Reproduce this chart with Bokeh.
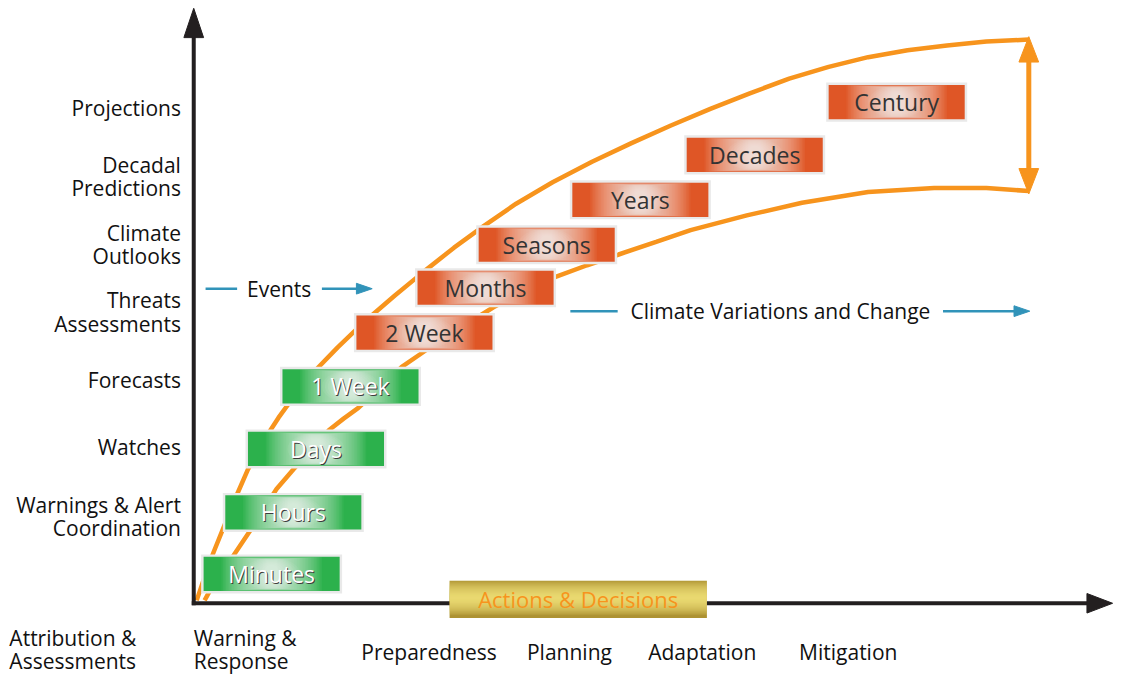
from bokeh.plotting import figure
from bokeh.models import Range1d
from bokeh.embed import file_html
from bokeh.resources import INLINE
from bokeh.core.properties import value

FONT = "Open Sans"

# ---- data -------------------------------------------------------------
box_labels = ["Minutes", "Hours", "Days", "1 Week", "2 Week", "Months",
              "Seasons", "Years", "Decades", "Century"]
box_x = [275, 297, 320, 355, 430, 492, 554, 649, 765, 909]
box_y = [587, 524, 459, 395, 340, 294, 250, 204, 158, 104]
box_kind = ["short", "short", "short", "short", "long", "long", "long",
            "long", "long", "long"]

ylab_text = ["Projections", "Decadal", "Predictions", "Climate", "Outlooks",
             "Threats", "Assessments", "Forecasts", "Watches",
             "Warnings & Alert", "Coordination"]
ylab_y = [110, 168, 192, 238, 262, 307, 331, 388, 457, 516, 540]

xlab_text = ["Attribution &", "Assessments", "Warning &", "Response",
             "Preparedness", "Planning", "Adaptation", "Mitigation"]
xlab_x = [9, 9, 196, 196, 366, 534, 657, 810]
xlab_y = [653, 676, 653, 676, 667, 667, 667, 667]

upper_x = [199, 207, 216, 226, 238, 251, 266, 282, 300, 320, 342, 370, 400,
           430, 460, 490, 523, 560, 600, 640, 680, 720, 760, 800, 840, 880,
           920, 960, 1000, 1043]
upper_y = [614, 590, 565, 540, 510, 480, 452, 427, 402, 378, 355, 328, 302,
           277, 253, 231, 208, 186, 165, 146, 128, 111, 95, 80, 68, 58, 51,
           46, 42, 40]
lower_x = [207, 213, 225, 237, 253, 266, 280, 297, 315, 333, 348, 363, 385,
           407, 433, 465, 500, 530, 563, 595, 627, 665, 700, 757, 813, 880,
           947, 1000, 1043]
lower_y = [614, 603, 585, 567, 543, 522, 500, 480, 460, 440, 428, 417, 396,
           375, 357, 336, 314, 298, 283, 271, 260, 247, 235, 220, 207, 196,
           192, 192, 195]

action_label = "Actions & Decisions"
action_x, action_y = 586, 613

# ---- styles -----------------------------------------------------------
AXIS_C = "#231f20"
ORANGE = "#f7941d"
BLUE = "#3193b9"
GREEN = "#2cb14c"
RED = "#df5626"
BOX_W, BOX_H = 138, 35

p = figure(width=1119, height=678, x_range=Range1d(0, 1135),
           y_range=Range1d(694, 0), x_axis_type=None, y_axis_type=None,
           toolbar_location=None, output_backend="svg", min_border=0)
p.outline_line_color = None
p.background_fill_color = "white"
p.border_fill_color = "white"


def head(tx, ty, dx, dy, length, width):
    bx, by = tx - dx * length, ty - dy * length
    px, py = -dy, dx
    return ([tx, bx + px * width / 2, bx - px * width / 2],
            [ty, by + py * width / 2, by - py * width / 2])


# orange curves
p.line(upper_x, upper_y, line_color=ORANGE, line_width=4.5)
p.line(lower_x, lower_y, line_color=ORANGE, line_width=4.5)

# double arrow
dx0 = upper_x[-1]
p.line([dx0, dx0], [upper_y[-1] + 20, lower_y[-1] - 20], line_color=ORANGE,
       line_width=5)
hx1, hy1 = head(dx0, upper_y[-1] - 3, 0, -1, 26, 20)
hx2, hy2 = head(dx0, lower_y[-1] + 3, 0, 1, 26, 20)
p.patches([hx1, hx2], [hy1, hy2], fill_color=ORANGE, line_color=ORANGE)

# axes
ax0, ay0 = 196, 617
p.line([ax0, ax0], [ay0 + 2, 30], line_color=AXIS_C, line_width=4)
p.line([ax0 - 2, 1110], [ay0, ay0], line_color=AXIS_C, line_width=4)
vx, vy = head(ax0, 8, 0, -1, 30, 20)
hx, hy = head(1128, ay0, 1, 0, 26, 20)
p.patches([vx, hx], [vy, hy], fill_color=AXIS_C, line_color=AXIS_C)

# blue arrows
p.line([208, 240], [295, 295], line_color=BLUE, line_width=2.5)
p.line([326, 366], [295, 295], line_color=BLUE, line_width=2.5)
p.line([578, 626], [318, 318], line_color=BLUE, line_width=2.5)
p.line([956, 1030], [318, 318], line_color=BLUE, line_width=2.5)
b1x, b1y = head(377, 295, 1, 0, 16, 11)
b2x, b2y = head(1044, 318, 1, 0, 16, 11)
p.patches([b1x, b2x], [b1y, b2y], fill_color=BLUE, line_color=BLUE)
p.text([250], [295], text=["Events"], text_font=value(FONT),
       text_font_size="21px", text_baseline="middle", text_align="left",
       text_color="#111111")
p.text([639], [318], text=["Climate Variations and Change"],
       text_font=value(FONT), text_font_size="21px", text_baseline="middle",
       text_align="left", text_color="#111111")

# action box (gold, vertical gradient)
AW, AH = 261, 38
p.rect([action_x], [action_y], width=AW, height=AH, fill_color="#ad9232",
       line_color=None)
for k in range(24):
    hh = AH * (0.94 - k * 0.038)
    p.rect([action_x], [action_y - 1.5], width=AW, height=hh,
           fill_color="#fff08c", fill_alpha=0.065, line_color=None)
p.text([action_x], [action_y], text=[action_label], text_font=value(FONT),
       text_font_size="22px", text_baseline="middle", text_align="center",
       text_color=ORANGE)

# time-scale boxes with radial glow
for lbl, cx, cy, kind in zip(box_labels, box_x, box_y, box_kind):
    base = GREEN if kind == "short" else RED
    p.rect([cx], [cy], width=BOX_W + 5, height=BOX_H + 5,
           fill_color="#e9e9e9", line_color=None)
    p.rect([cx], [cy], width=BOX_W, height=BOX_H, fill_color=base,
           line_color=None)
    n = 30
    for k in range(n):
        f = k / (n - 1)
        w = BOX_W * (0.74 - 0.66 * f)
        p.rect([cx], [cy], width=w, height=BOX_H * (1 - 0.15 * f),
               fill_color="white", fill_alpha=0.042, line_color=None)
    for k in range(8):
        f = k / 7
        p.ellipse([cx], [cy], width=BOX_W * (0.42 - 0.3 * f),
                  height=BOX_H * (0.95 - 0.4 * f), fill_color="white",
                  fill_alpha=0.06, line_color=None)

short_lbl = [l for l, k in zip(box_labels, box_kind) if k == "short"]
short_x = [x for x, k in zip(box_x, box_kind) if k == "short"]
short_y = [y for y, k in zip(box_y, box_kind) if k == "short"]
long_lbl = [l for l, k in zip(box_labels, box_kind) if k == "long"]
long_x = [x for x, k in zip(box_x, box_kind) if k == "long"]
long_y = [y for y, k in zip(box_y, box_kind) if k == "long"]

p.text(short_x, short_y, text=short_lbl, text_font=value(FONT),
       text_font_size="23px", text_baseline="middle", text_align="center",
       text_color="#3c3c3c", x_offset=1, y_offset=1)
p.text(short_x, short_y, text=short_lbl, text_font=value(FONT),
       text_font_size="23px", text_baseline="middle", text_align="center",
       text_color="white")
p.text(long_x, long_y, text=long_lbl, text_font=value(FONT),
       text_font_size="23px", text_baseline="middle", text_align="center",
       text_color="#333333")

# y-side labels
p.text([183] * len(ylab_text), ylab_y, text=ylab_text, text_font=value(FONT),
       text_font_size="21px", text_baseline="middle", text_align="right",
       text_color="#111111")
# x-side labels
p.text(xlab_x, xlab_y, text=xlab_text, text_font=value(FONT),
       text_font_size="21px", text_baseline="middle", text_align="left",
       text_color="#111111")

open("out.html", "w").write(file_html(p, INLINE))
